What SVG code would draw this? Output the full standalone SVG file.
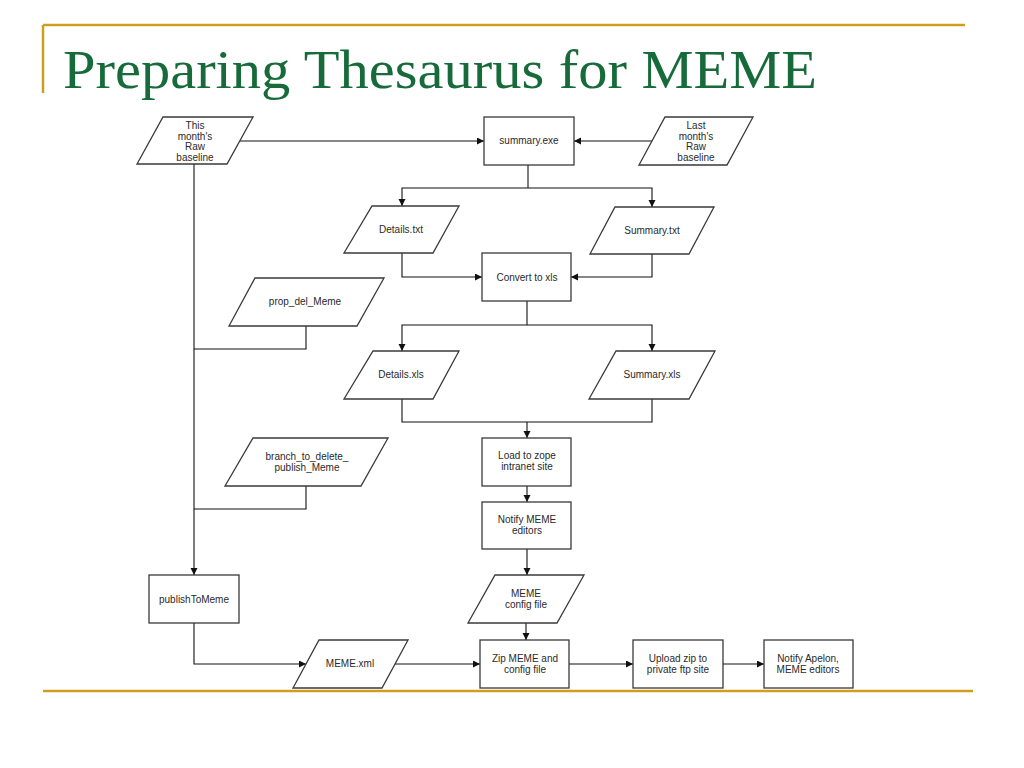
<svg xmlns="http://www.w3.org/2000/svg" width="1024" height="768" viewBox="0 0 1024 768">
<defs>
<marker id="arr" markerWidth="8" markerHeight="8" refX="7" refY="3.5" orient="auto" markerUnits="userSpaceOnUse">
<path d="M0,0 L7,3.5 L0,7 Z" fill="#111"/>
</marker>
<style>
.shape{fill:#fff;stroke:#3a3a3a;stroke-width:1.3}
.t{font-family:"Liberation Sans",Arial,sans-serif;font-size:10px;fill:#2a2a2a;text-anchor:middle}
.c{fill:none;stroke:#111;stroke-width:1.1}
.ca{fill:none;stroke:#111;stroke-width:1.1;marker-end:url(#arr)}
.gold{stroke:#CF9E21;stroke-width:2.5;fill:none}
</style>
</defs>
<rect width="1024" height="768" fill="#fff"/>
<g id="frame">
<line class="gold" x1="43" y1="25" x2="965" y2="25"/>
<line class="gold" x1="43" y1="25" x2="43" y2="93"/>
<line class="gold" x1="43" y1="691" x2="973" y2="691"/>
</g>
<text id="title" x="63" y="88" font-family="'Liberation Serif','Times New Roman',serif" font-size="54" fill="#176B3A" textLength="754" lengthAdjust="spacingAndGlyphs">Preparing Thesaurus for MEME</text>

<g id="connectors">
<line class="ca" x1="240" y1="141" x2="484" y2="141"/>
<line class="ca" x1="652" y1="141" x2="574" y2="141"/>
<polyline class="c" points="528,165 528,188"/>
<polyline class="ca" points="528,188 402,188 402,206"/>
<polyline class="ca" points="528,188 652,188 652,207"/>
<polyline class="ca" points="402,253 402,277 482,277"/>
<polyline class="ca" points="652,254 652,277 571,277"/>
<polyline class="c" points="527,301 527,325"/>
<polyline class="ca" points="527,325 402,325 402,351"/>
<polyline class="ca" points="527,325 652,325 652,351"/>
<polyline class="c" points="402,399 402,422 652,422 652,399"/>
<line class="ca" x1="527" y1="422" x2="527" y2="438"/>
<line class="ca" x1="527" y1="486" x2="527" y2="502"/>
<line class="ca" x1="527" y1="549" x2="527" y2="575"/>
<line class="ca" x1="526" y1="623" x2="526" y2="640"/>
<line class="ca" x1="569" y1="664" x2="633" y2="664"/>
<line class="ca" x1="723" y1="664" x2="764" y2="664"/>
<line class="ca" x1="194" y1="164" x2="194" y2="575"/>
<polyline class="c" points="306,326 306,349 194,349"/>
<polyline class="c" points="306,486 306,509 194,509"/>
<polyline class="ca" points="194,623 194,664 306,664"/>
<line class="ca" x1="395" y1="664" x2="480" y2="664"/>
</g>

<g id="this_month">
<polygon class="shape" points="163,117 253,117 227,164 137,164"/>
<text class="t" x="195" y="129">This</text>
<text class="t" x="195" y="140">month's</text>
<text class="t" x="195" y="150">Raw</text>
<text class="t" x="195" y="161">baseline</text>
</g>
<g id="summary_exe">
<rect class="shape" x="484" y="117" width="90" height="48"/>
<text class="t" x="529" y="144">summary.exe</text>
</g>
<g id="last_month">
<polygon class="shape" points="665,117 753,117 727,165 639,165"/>
<text class="t" x="696" y="129">Last</text>
<text class="t" x="696" y="140">month's</text>
<text class="t" x="696" y="150">Raw</text>
<text class="t" x="696" y="161">baseline</text>
</g>
<g id="details_txt">
<polygon class="shape" points="372,206 459,206 433,253 344,253"/>
<text class="t" x="401" y="233">Details.txt</text>
</g>
<g id="summary_txt">
<polygon class="shape" points="615,207 714,207 689,254 590,254"/>
<text class="t" x="652" y="234">Summary.txt</text>
</g>
<g id="convert_xls">
<rect class="shape" x="482" y="253" width="89" height="48"/>
<text class="t" x="527" y="281">Convert to xls</text>
</g>
<g id="details_xls">
<polygon class="shape" points="373,351 459,351 433,399 344,399"/>
<text class="t" x="401" y="378">Details.xls</text>
</g>
<g id="summary_xls">
<polygon class="shape" points="616,351 715,351 689,399 589,399"/>
<text class="t" x="652" y="378">Summary.xls</text>
</g>
<g id="prop_del_meme">
<polygon class="shape" points="255,278 384,278 357,326 229,326"/>
<text class="t" x="305" y="305">prop_del_Meme</text>
</g>
<g id="branch_to_delete">
<polygon class="shape" points="253,438 388,438 361,486 225,486"/>
<text class="t" x="307" y="460">branch_to_delete_</text>
<text class="t" x="307" y="471">publish_Meme</text>
</g>
<g id="load_zope">
<rect class="shape" x="482" y="438" width="89" height="48"/>
<text class="t" x="527" y="459">Load to zope</text>
<text class="t" x="527" y="470">intranet site</text>
</g>
<g id="notify_meme">
<rect class="shape" x="482" y="502" width="89" height="47"/>
<text class="t" x="527" y="523">Notify MEME</text>
<text class="t" x="527" y="534">editors</text>
</g>
<g id="meme_config">
<polygon class="shape" points="495,575 584,575 557,623 468,623"/>
<text class="t" x="526" y="597">MEME</text>
<text class="t" x="526" y="608">config file</text>
</g>
<g id="publish_to_meme">
<rect class="shape" x="149" y="575" width="90" height="48"/>
<text class="t" x="194" y="603">publishToMeme</text>
</g>
<g id="meme_xml">
<polygon class="shape" points="319,640 408,640 382,688 293,688"/>
<text class="t" x="350" y="667">MEME.xml</text>
</g>
<g id="zip_meme">
<rect class="shape" x="480" y="640" width="89" height="48"/>
<text class="t" x="525" y="662">Zip MEME and</text>
<text class="t" x="525" y="673">config file</text>
</g>
<g id="upload_zip">
<rect class="shape" x="633" y="640" width="90" height="48"/>
<text class="t" x="678" y="662">Upload zip to</text>
<text class="t" x="678" y="673">private ftp site</text>
</g>
<g id="notify_apelon">
<rect class="shape" x="764" y="640" width="89" height="48"/>
<text class="t" x="808" y="662">Notify Apelon,</text>
<text class="t" x="808" y="673">MEME editors</text>
</g>
</svg>
